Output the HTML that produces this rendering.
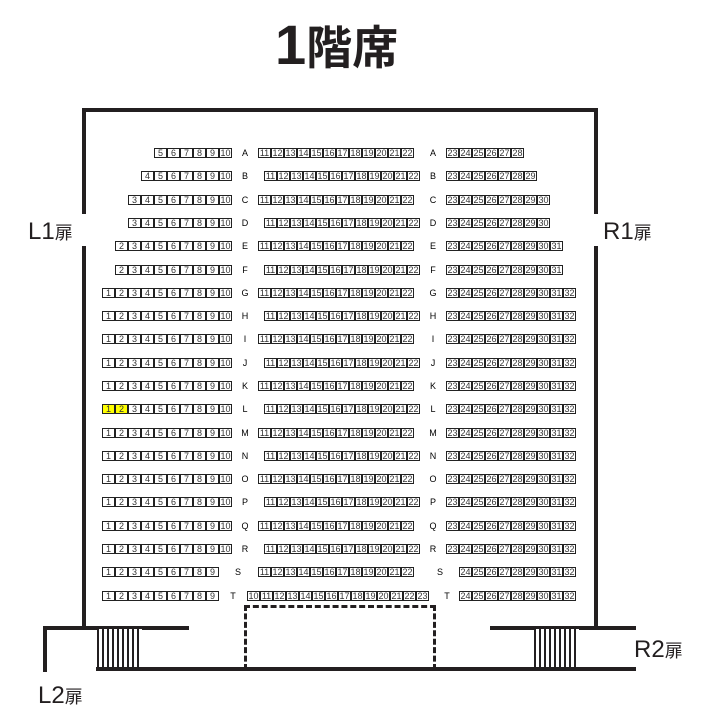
<!DOCTYPE html>
<html><head><meta charset="utf-8"><style>
body{margin:0;width:709px;height:692px;background:#fff;position:relative;overflow:hidden;font-family:"Liberation Sans","Noto Sans CJK JP",sans-serif}
.r{position:absolute;display:flex;height:10px}
.r b{display:block;width:13px;height:10px;border:1px solid #222;box-sizing:border-box;font:normal 9px/8px "Liberation Sans",sans-serif;color:#333;text-align:center;margin-right:0}
.r b.y{background:#ff0}
.l{position:absolute;font-size:9px;line-height:10px;width:12px;text-align:center;margin-left:-6px}
.w{position:absolute;background:#231f20}
.t{position:absolute;color:#231f20}
</style></head><body>
<div class="t" style="left:275px;top:10px;font-size:56px;font-weight:bold;line-height:70px">1<span style="font-size:46px">階席</span></div>
<div class="t" style="left:28px;top:218px;font-size:24px">L1<span style="font-size:18px">扉</span></div>
<div class="t" style="left:603px;top:218px;font-size:24px">R1<span style="font-size:18px">扉</span></div>
<div class="t" style="left:634px;top:636px;font-size:24px">R2<span style="font-size:18px">扉</span></div>
<div class="t" style="left:38px;top:682px;font-size:24px">L2<span style="font-size:18px">扉</span></div>
<!-- walls -->
<div class="w" style="left:82px;top:108px;width:516px;height:4px"></div>
<div class="w" style="left:82px;top:108px;width:4px;height:106px"></div>
<div class="w" style="left:82px;top:246px;width:4px;height:384px"></div>
<div class="w" style="left:594px;top:108px;width:4px;height:106px"></div>
<div class="w" style="left:594px;top:246px;width:4px;height:384px"></div>
<div class="w" style="left:43px;top:626px;width:146px;height:4px"></div>
<div class="w" style="left:43px;top:626px;width:4px;height:46px"></div>
<div class="w" style="left:96px;top:667px;width:540px;height:4px"></div>
<div class="w" style="left:490px;top:626px;width:146px;height:4px"></div>
<div style="position:absolute;left:97px;top:629px;width:45px;height:38px;background:repeating-linear-gradient(90deg,#231f20 0 2px,#fff 2px 5px)"></div>
<div style="position:absolute;left:534px;top:629px;width:45px;height:38px;background:repeating-linear-gradient(90deg,#231f20 0 2px,#fff 2px 5px)"></div>
<div style="position:absolute;left:244px;top:605px;width:186px;height:62px;border:3px dashed #231f20;border-bottom:none"></div>

<div class="r" style="left:154px;top:148px"><b>5</b><b>6</b><b>7</b><b>8</b><b>9</b><b>10</b></div><div class="l" style="left:245px;top:148px">A</div><div class="r" style="left:258px;top:148px"><b>11</b><b>12</b><b>13</b><b>14</b><b>15</b><b>16</b><b>17</b><b>18</b><b>19</b><b>20</b><b>21</b><b>22</b></div><div class="l" style="left:433px;top:148px">A</div><div class="r" style="left:446px;top:148px"><b>23</b><b>24</b><b>25</b><b>26</b><b>27</b><b>28</b></div>

<div class="r" style="left:141px;top:171px"><b>4</b><b>5</b><b>6</b><b>7</b><b>8</b><b>9</b><b>10</b></div><div class="l" style="left:245px;top:171px">B</div><div class="r" style="left:264px;top:171px"><b>11</b><b>12</b><b>13</b><b>14</b><b>15</b><b>16</b><b>17</b><b>18</b><b>19</b><b>20</b><b>21</b><b>22</b></div><div class="l" style="left:433px;top:171px">B</div><div class="r" style="left:446px;top:171px"><b>23</b><b>24</b><b>25</b><b>26</b><b>27</b><b>28</b><b>29</b></div>

<div class="r" style="left:128px;top:195px"><b>3</b><b>4</b><b>5</b><b>6</b><b>7</b><b>8</b><b>9</b><b>10</b></div><div class="l" style="left:245px;top:195px">C</div><div class="r" style="left:258px;top:195px"><b>11</b><b>12</b><b>13</b><b>14</b><b>15</b><b>16</b><b>17</b><b>18</b><b>19</b><b>20</b><b>21</b><b>22</b></div><div class="l" style="left:433px;top:195px">C</div><div class="r" style="left:446px;top:195px"><b>23</b><b>24</b><b>25</b><b>26</b><b>27</b><b>28</b><b>29</b><b>30</b></div>

<div class="r" style="left:128px;top:218px"><b>3</b><b>4</b><b>5</b><b>6</b><b>7</b><b>8</b><b>9</b><b>10</b></div><div class="l" style="left:245px;top:218px">D</div><div class="r" style="left:264px;top:218px"><b>11</b><b>12</b><b>13</b><b>14</b><b>15</b><b>16</b><b>17</b><b>18</b><b>19</b><b>20</b><b>21</b><b>22</b></div><div class="l" style="left:433px;top:218px">D</div><div class="r" style="left:446px;top:218px"><b>23</b><b>24</b><b>25</b><b>26</b><b>27</b><b>28</b><b>29</b><b>30</b></div>

<div class="r" style="left:115px;top:241px"><b>2</b><b>3</b><b>4</b><b>5</b><b>6</b><b>7</b><b>8</b><b>9</b><b>10</b></div><div class="l" style="left:245px;top:241px">E</div><div class="r" style="left:258px;top:241px"><b>11</b><b>12</b><b>13</b><b>14</b><b>15</b><b>16</b><b>17</b><b>18</b><b>19</b><b>20</b><b>21</b><b>22</b></div><div class="l" style="left:433px;top:241px">E</div><div class="r" style="left:446px;top:241px"><b>23</b><b>24</b><b>25</b><b>26</b><b>27</b><b>28</b><b>29</b><b>30</b><b>31</b></div>

<div class="r" style="left:115px;top:265px"><b>2</b><b>3</b><b>4</b><b>5</b><b>6</b><b>7</b><b>8</b><b>9</b><b>10</b></div><div class="l" style="left:245px;top:265px">F</div><div class="r" style="left:264px;top:265px"><b>11</b><b>12</b><b>13</b><b>14</b><b>15</b><b>16</b><b>17</b><b>18</b><b>19</b><b>20</b><b>21</b><b>22</b></div><div class="l" style="left:433px;top:265px">F</div><div class="r" style="left:446px;top:265px"><b>23</b><b>24</b><b>25</b><b>26</b><b>27</b><b>28</b><b>29</b><b>30</b><b>31</b></div>

<div class="r" style="left:102px;top:288px"><b>1</b><b>2</b><b>3</b><b>4</b><b>5</b><b>6</b><b>7</b><b>8</b><b>9</b><b>10</b></div><div class="l" style="left:245px;top:288px">G</div><div class="r" style="left:258px;top:288px"><b>11</b><b>12</b><b>13</b><b>14</b><b>15</b><b>16</b><b>17</b><b>18</b><b>19</b><b>20</b><b>21</b><b>22</b></div><div class="l" style="left:433px;top:288px">G</div><div class="r" style="left:446px;top:288px"><b>23</b><b>24</b><b>25</b><b>26</b><b>27</b><b>28</b><b>29</b><b>30</b><b>31</b><b>32</b></div>

<div class="r" style="left:102px;top:311px"><b>1</b><b>2</b><b>3</b><b>4</b><b>5</b><b>6</b><b>7</b><b>8</b><b>9</b><b>10</b></div><div class="l" style="left:245px;top:311px">H</div><div class="r" style="left:264px;top:311px"><b>11</b><b>12</b><b>13</b><b>14</b><b>15</b><b>16</b><b>17</b><b>18</b><b>19</b><b>20</b><b>21</b><b>22</b></div><div class="l" style="left:433px;top:311px">H</div><div class="r" style="left:446px;top:311px"><b>23</b><b>24</b><b>25</b><b>26</b><b>27</b><b>28</b><b>29</b><b>30</b><b>31</b><b>32</b></div>

<div class="r" style="left:102px;top:334px"><b>1</b><b>2</b><b>3</b><b>4</b><b>5</b><b>6</b><b>7</b><b>8</b><b>9</b><b>10</b></div><div class="l" style="left:245px;top:334px">I</div><div class="r" style="left:258px;top:334px"><b>11</b><b>12</b><b>13</b><b>14</b><b>15</b><b>16</b><b>17</b><b>18</b><b>19</b><b>20</b><b>21</b><b>22</b></div><div class="l" style="left:433px;top:334px">I</div><div class="r" style="left:446px;top:334px"><b>23</b><b>24</b><b>25</b><b>26</b><b>27</b><b>28</b><b>29</b><b>30</b><b>31</b><b>32</b></div>

<div class="r" style="left:102px;top:358px"><b>1</b><b>2</b><b>3</b><b>4</b><b>5</b><b>6</b><b>7</b><b>8</b><b>9</b><b>10</b></div><div class="l" style="left:245px;top:358px">J</div><div class="r" style="left:264px;top:358px"><b>11</b><b>12</b><b>13</b><b>14</b><b>15</b><b>16</b><b>17</b><b>18</b><b>19</b><b>20</b><b>21</b><b>22</b></div><div class="l" style="left:433px;top:358px">J</div><div class="r" style="left:446px;top:358px"><b>23</b><b>24</b><b>25</b><b>26</b><b>27</b><b>28</b><b>29</b><b>30</b><b>31</b><b>32</b></div>

<div class="r" style="left:102px;top:381px"><b>1</b><b>2</b><b>3</b><b>4</b><b>5</b><b>6</b><b>7</b><b>8</b><b>9</b><b>10</b></div><div class="l" style="left:245px;top:381px">K</div><div class="r" style="left:258px;top:381px"><b>11</b><b>12</b><b>13</b><b>14</b><b>15</b><b>16</b><b>17</b><b>18</b><b>19</b><b>20</b><b>21</b><b>22</b></div><div class="l" style="left:433px;top:381px">K</div><div class="r" style="left:446px;top:381px"><b>23</b><b>24</b><b>25</b><b>26</b><b>27</b><b>28</b><b>29</b><b>30</b><b>31</b><b>32</b></div>

<div class="r" style="left:102px;top:404px"><b class="y">1</b><b class="y">2</b><b>3</b><b>4</b><b>5</b><b>6</b><b>7</b><b>8</b><b>9</b><b>10</b></div><div class="l" style="left:245px;top:404px">L</div><div class="r" style="left:264px;top:404px"><b>11</b><b>12</b><b>13</b><b>14</b><b>15</b><b>16</b><b>17</b><b>18</b><b>19</b><b>20</b><b>21</b><b>22</b></div><div class="l" style="left:433px;top:404px">L</div><div class="r" style="left:446px;top:404px"><b>23</b><b>24</b><b>25</b><b>26</b><b>27</b><b>28</b><b>29</b><b>30</b><b>31</b><b>32</b></div>

<div class="r" style="left:102px;top:428px"><b>1</b><b>2</b><b>3</b><b>4</b><b>5</b><b>6</b><b>7</b><b>8</b><b>9</b><b>10</b></div><div class="l" style="left:245px;top:428px">M</div><div class="r" style="left:258px;top:428px"><b>11</b><b>12</b><b>13</b><b>14</b><b>15</b><b>16</b><b>17</b><b>18</b><b>19</b><b>20</b><b>21</b><b>22</b></div><div class="l" style="left:433px;top:428px">M</div><div class="r" style="left:446px;top:428px"><b>23</b><b>24</b><b>25</b><b>26</b><b>27</b><b>28</b><b>29</b><b>30</b><b>31</b><b>32</b></div>

<div class="r" style="left:102px;top:451px"><b>1</b><b>2</b><b>3</b><b>4</b><b>5</b><b>6</b><b>7</b><b>8</b><b>9</b><b>10</b></div><div class="l" style="left:245px;top:451px">N</div><div class="r" style="left:264px;top:451px"><b>11</b><b>12</b><b>13</b><b>14</b><b>15</b><b>16</b><b>17</b><b>18</b><b>19</b><b>20</b><b>21</b><b>22</b></div><div class="l" style="left:433px;top:451px">N</div><div class="r" style="left:446px;top:451px"><b>23</b><b>24</b><b>25</b><b>26</b><b>27</b><b>28</b><b>29</b><b>30</b><b>31</b><b>32</b></div>

<div class="r" style="left:102px;top:474px"><b>1</b><b>2</b><b>3</b><b>4</b><b>5</b><b>6</b><b>7</b><b>8</b><b>9</b><b>10</b></div><div class="l" style="left:245px;top:474px">O</div><div class="r" style="left:258px;top:474px"><b>11</b><b>12</b><b>13</b><b>14</b><b>15</b><b>16</b><b>17</b><b>18</b><b>19</b><b>20</b><b>21</b><b>22</b></div><div class="l" style="left:433px;top:474px">O</div><div class="r" style="left:446px;top:474px"><b>23</b><b>24</b><b>25</b><b>26</b><b>27</b><b>28</b><b>29</b><b>30</b><b>31</b><b>32</b></div>

<div class="r" style="left:102px;top:497px"><b>1</b><b>2</b><b>3</b><b>4</b><b>5</b><b>6</b><b>7</b><b>8</b><b>9</b><b>10</b></div><div class="l" style="left:245px;top:497px">P</div><div class="r" style="left:264px;top:497px"><b>11</b><b>12</b><b>13</b><b>14</b><b>15</b><b>16</b><b>17</b><b>18</b><b>19</b><b>20</b><b>21</b><b>22</b></div><div class="l" style="left:433px;top:497px">P</div><div class="r" style="left:446px;top:497px"><b>23</b><b>24</b><b>25</b><b>26</b><b>27</b><b>28</b><b>29</b><b>30</b><b>31</b><b>32</b></div>

<div class="r" style="left:102px;top:521px"><b>1</b><b>2</b><b>3</b><b>4</b><b>5</b><b>6</b><b>7</b><b>8</b><b>9</b><b>10</b></div><div class="l" style="left:245px;top:521px">Q</div><div class="r" style="left:258px;top:521px"><b>11</b><b>12</b><b>13</b><b>14</b><b>15</b><b>16</b><b>17</b><b>18</b><b>19</b><b>20</b><b>21</b><b>22</b></div><div class="l" style="left:433px;top:521px">Q</div><div class="r" style="left:446px;top:521px"><b>23</b><b>24</b><b>25</b><b>26</b><b>27</b><b>28</b><b>29</b><b>30</b><b>31</b><b>32</b></div>

<div class="r" style="left:102px;top:544px"><b>1</b><b>2</b><b>3</b><b>4</b><b>5</b><b>6</b><b>7</b><b>8</b><b>9</b><b>10</b></div><div class="l" style="left:245px;top:544px">R</div><div class="r" style="left:264px;top:544px"><b>11</b><b>12</b><b>13</b><b>14</b><b>15</b><b>16</b><b>17</b><b>18</b><b>19</b><b>20</b><b>21</b><b>22</b></div><div class="l" style="left:433px;top:544px">R</div><div class="r" style="left:446px;top:544px"><b>23</b><b>24</b><b>25</b><b>26</b><b>27</b><b>28</b><b>29</b><b>30</b><b>31</b><b>32</b></div>

<div class="r" style="left:102px;top:567px"><b>1</b><b>2</b><b>3</b><b>4</b><b>5</b><b>6</b><b>7</b><b>8</b><b>9</b></div><div class="l" style="left:238px;top:567px">S</div><div class="r" style="left:258px;top:567px"><b>11</b><b>12</b><b>13</b><b>14</b><b>15</b><b>16</b><b>17</b><b>18</b><b>19</b><b>20</b><b>21</b><b>22</b></div><div class="l" style="left:440px;top:567px">S</div><div class="r" style="left:459px;top:567px"><b>24</b><b>25</b><b>26</b><b>27</b><b>28</b><b>29</b><b>30</b><b>31</b><b>32</b></div>

<div class="r" style="left:102px;top:591px"><b>1</b><b>2</b><b>3</b><b>4</b><b>5</b><b>6</b><b>7</b><b>8</b><b>9</b></div><div class="l" style="left:233px;top:591px">T</div><div class="r" style="left:247px;top:591px"><b>10</b><b>11</b><b>12</b><b>13</b><b>14</b><b>15</b><b>16</b><b>17</b><b>18</b><b>19</b><b>20</b><b>21</b><b>22</b><b>23</b></div><div class="l" style="left:447px;top:591px">T</div><div class="r" style="left:459px;top:591px"><b>24</b><b>25</b><b>26</b><b>27</b><b>28</b><b>29</b><b>30</b><b>31</b><b>32</b></div>
</body></html>
